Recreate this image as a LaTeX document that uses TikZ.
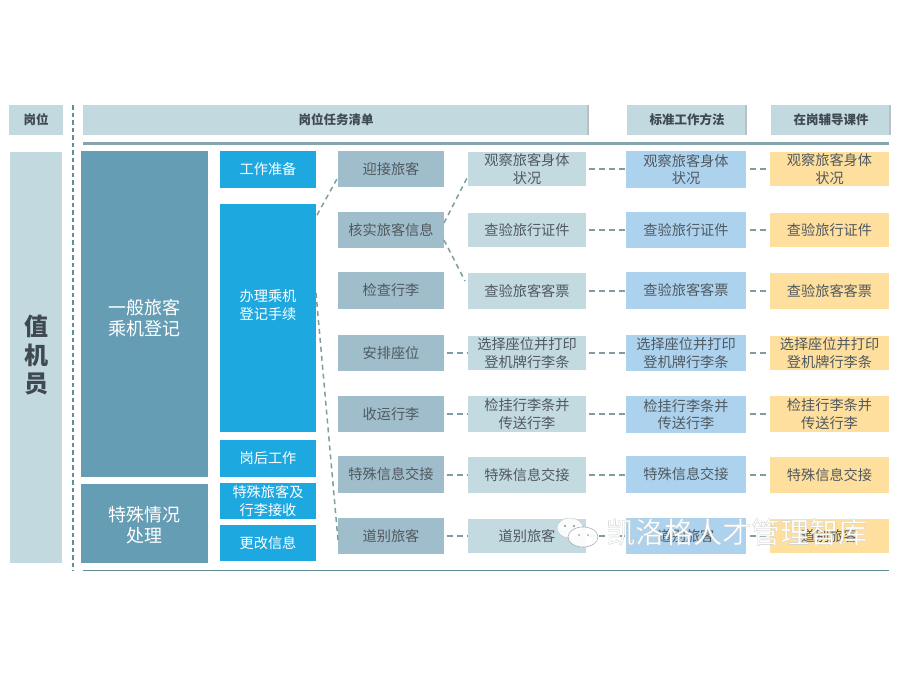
\documentclass[tikz,border=0pt]{standalone}
\usepackage{fontspec}
\setmainfont{Noto Sans CJK SC}
\usetikzlibrary{calc}
\definecolor{headbg}{HTML}{C3D9E0}
\definecolor{groupbg}{HTML}{659DB5}
\definecolor{phasebg}{HTML}{1EA8E0}
\definecolor{stepbg}{HTML}{A0BDCB}
\definecolor{taskbg}{HTML}{C3DAE1}
\definecolor{methodbg}{HTML}{ADD2EE}
\definecolor{coursebg}{HTML}{FFDF9E}
\definecolor{inkdark}{HTML}{3F4A50}
\definecolor{inkmid}{HTML}{50595F}
\definecolor{rulecol}{HTML}{86A6AC}
\definecolor{rulebot}{HTML}{5F8E96}
\definecolor{dashcol}{HTML}{7F9CA0}
\definecolor{edgecol}{HTML}{B9BFC2}
\newcommand{\pbox}[7]{%
  \pgfmathsetmacro{\pw}{#5-#3}\pgfmathsetmacro{\ph}{#6-#4}%
  \pgfmathsetmacro{\pcx}{(#3+#5)/2}\pgfmathsetmacro{\pcy}{(#4+#6)/2}%
  \node[#2,minimum width=\pw pt,minimum height=\ph pt] (#1) at (\pcx,\pcy) {#7};}
\newcommand{\lifted}[2]{\raisebox{#1}{\begin{tabular}{@{}c@{}}#2\end{tabular}}}
\tikzset{
  basebox/.style={inner sep=0pt,outer sep=0pt,align=center,text depth=1.5pt},
  headbox/.style={basebox,fill=headbg,text=inkdark,font=\fontsize{12.5}{14}\selectfont\bfseries},
  rolebox/.style={basebox,fill=headbg,text=inkdark,font=\fontsize{24}{28}\selectfont\bfseries},
  groupbox/.style={basebox,fill=groupbg,text=white,font=\fontsize{18}{20}\selectfont},
  phasebox/.style={basebox,fill=phasebg,text=white,font=\fontsize{14.2}{17.5}\selectfont},
  stepbox/.style={basebox,fill=stepbg,text=inkmid,font=\fontsize{14.2}{17.5}\selectfont},
  taskbox/.style={basebox,fill=taskbg,text=inkmid,font=\fontsize{14.2}{17.5}\selectfont},
  methodbox/.style={basebox,fill=methodbg,text=inkmid,font=\fontsize{14.2}{17.5}\selectfont},
  coursebox/.style={basebox,fill=coursebg,text=inkmid,font=\fontsize{14.2}{17.5}\selectfont},
  link/.style={draw=dashcol,line width=1.8pt,dash pattern=on 6pt off 4pt,shorten <=2.5pt,shorten >=1pt},
  linkthin/.style={draw=dashcol,line width=1.5pt,dash pattern=on 5pt off 4pt},
}
\begin{document}
\begin{tikzpicture}[x=1pt,y=-1pt]
\useasboundingbox (0,0) rectangle (900,675);
% headers
\pbox{hA}{headbox}{9}{105}{63}{135}{岗位}
\pbox{hB}{headbox}{83}{105}{589}{135}{岗位任务清单}
\pbox{hC}{headbox}{627}{105}{747}{135}{标准工作方法}
\pbox{hD}{headbox}{771}{105}{891}{135}{在岗辅导课件}
\foreach \h in {hB,hC,hD}{\fill[edgecol] ($(\h.north east)+(-2.5,0)$) rectangle (\h.south east);}
% rules
\coordinate (ruleTL) at (83,143.5);\coordinate (ruleTR) at (889,143.5);
\coordinate (ruleBL) at (83,570.5);\coordinate (ruleBR) at (889,570.5);
\coordinate (sepT) at (73,105);\coordinate (sepB) at (73,571);
\draw[rulecol,line width=2.5pt] (ruleTL) -- (ruleTR);
\draw[rulebot,line width=1.3pt] (ruleBL) -- (ruleBR);
\draw[rulebot,line width=2pt,dash pattern=on 4.5pt off 3pt] (sepT) -- (sepB);
% left
\pbox{role}{rolebox}{10}{152}{62}{563}{\lifted{33.5pt}{值\\机\\员}}
\pbox{g1}{groupbox}{81}{151}{208}{477}{\lifted{2pt}{一般旅客\\乘机登记}}
\pbox{g2}{groupbox}{81}{484}{208}{563}{\lifted{7.5pt}{特殊情况\\处理}}
\pbox{p1}{phasebox}{220}{151}{316}{188}{工作准备}
\pbox{p2}{phasebox}{220}{204}{316}{432}{\lifted{34pt}{办理乘机\\登记手续}}
\pbox{p3}{phasebox}{220}{440}{316}{477}{岗后工作}
\pbox{p4}{phasebox}{220}{483}{316}{519}{特殊旅客及\\行李接收}
\pbox{p5}{phasebox}{220}{525}{316}{561}{更改信息}
% steps
\pbox{s1}{stepbox}{338}{151}{444}{187}{迎接旅客}
\pbox{s2}{stepbox}{338}{212}{444}{248}{核实旅客信息}
\pbox{s3}{stepbox}{338}{272}{444}{309}{检查行李}
\pbox{s4}{stepbox}{338}{335}{444}{371}{安排座位}
\pbox{s5}{stepbox}{338}{396}{444}{432}{收运行李}
\pbox{s6}{stepbox}{338}{456}{444}{493}{特殊信息交接}
\pbox{s7}{stepbox}{338}{518}{444}{554}{道别旅客}
% tasks
\pbox{t1}{taskbox}{468}{152}{586}{186}{观察旅客身体\\状况}
\pbox{t2}{taskbox}{468}{213}{586}{247}{查验旅行证件}
\pbox{t3}{taskbox}{468}{273}{586}{309}{查验旅客客票}
\pbox{t4}{taskbox}{468}{336}{586}{370}{选择座位并打印\\登机牌行李条}
\pbox{t5}{taskbox}{468}{396}{586}{432}{检挂行李条并\\传送行李}
\pbox{t6}{taskbox}{468}{457}{586}{493}{特殊信息交接}
\pbox{t7}{taskbox}{468}{519}{586}{553}{道别旅客}
% methods
\pbox{m1}{methodbox}{626}{151}{746}{188}{观察旅客身体\\状况}
\pbox{m2}{methodbox}{626}{212}{746}{248}{查验旅行证件}
\pbox{m3}{methodbox}{626}{272}{746}{309}{查验旅客客票}
\pbox{m4}{methodbox}{626}{335}{746}{371}{选择座位并打印\\登机牌行李条}
\pbox{m5}{methodbox}{626}{396}{746}{433}{检挂行李条并\\传送行李}
\pbox{m6}{methodbox}{626}{456}{746}{493}{特殊信息交接}
\pbox{m7}{methodbox}{626}{518}{746}{554}{道别旅客}
% courseware
\pbox{c1}{coursebox}{770}{152}{889}{186}{观察旅客身体\\状况}
\pbox{c2}{coursebox}{770}{213}{889}{247}{查验旅行证件}
\pbox{c3}{coursebox}{770}{273}{889}{309}{查验旅客客票}
\pbox{c4}{coursebox}{770}{336}{889}{370}{选择座位并打印\\登机牌行李条}
\pbox{c5}{coursebox}{770}{396}{889}{432}{检挂行李条并\\传送行李}
\pbox{c6}{coursebox}{770}{457}{889}{493}{特殊信息交接}
\pbox{c7}{coursebox}{770}{519}{889}{553}{道别旅客}
% connectors
\draw[linkthin] ($(p2.north east)+(1,11)$) -- ($(s1.west)+(0,8)$);
\draw[linkthin] ($(p2.east)+(0,-25)$) -- ($(s7.west)+(0,4)$);
\draw[linkthin] ($(s2.east)+(0,-7)$) -- ($(t1.west)+(-1,9)$);
\draw[linkthin] ($(s2.east)+(0,10)$) -- ($(t3.west)+(-3,-10)$);
\foreach \i in {4,...,7}{\draw[link] (t\i.west -| s\i.east) -- (t\i.west);}
\foreach \i in {1,...,7}{
  \draw[link] (t\i.east) -- (t\i.east -| m\i.west);
  \draw[link,shorten <=4pt,shorten >=4pt] (c\i.west -| m\i.east) -- (c\i.west);
}
% watermark
\filldraw[fill=white,draw=black!22,line width=.5pt,opacity=.9] (570,528) ellipse (13 and 10);
\filldraw[fill=white,draw=black!35,line width=.6pt,opacity=.9] (583,537) ellipse (15 and 10);
\fill[black!45] (565,526) circle (1.1) (574,526) circle (1.1) (579,535) circle (.9) (588,535) circle (.9);
\node[inner sep=0pt,font=\fontsize{29}{32}\selectfont,anchor=west] (mark) at (606,532)
  {\special{pdf:code 1 1 1 rg 0.78 0.8 0.81 RG 0.3 w 2 Tr}凯洛格人才管理智库\special{pdf:code 0 Tr 0 0 0 rg 0 0 0 RG}};
\end{tikzpicture}
\end{document}
